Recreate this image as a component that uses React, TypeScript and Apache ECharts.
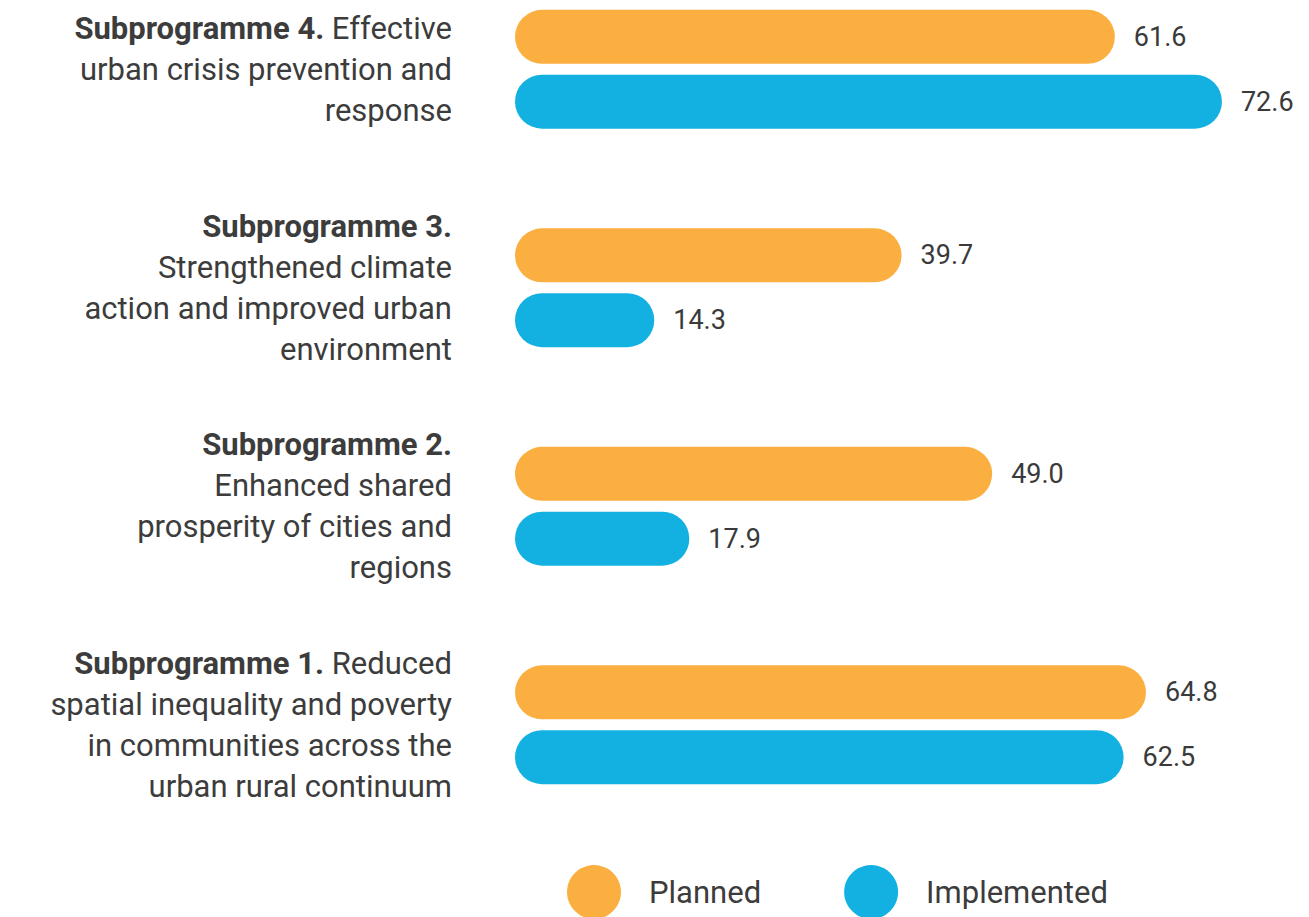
import React, { useEffect, useRef } from "react";
import * as echarts from "echarts";

const categories = [
  "{b|Subprogramme 4.} Effective\nurban crisis prevention and\nresponse",
  "{b|Subprogramme 3.}\nStrengthened climate\naction and improved urban\nenvironment",
  "{b|Subprogramme 2.}\nEnhanced shared\nprosperity of cities and\nregions",
  "{b|Subprogramme 1.} Reduced\nspatial inequality and poverty\nin communities across the\nurban rural continuum",
];
const planned = [61.6, 39.7, 49.0, 64.8];
const implemented = [72.6, 14.3, 17.9, 62.5];
const seriesNames = ["Planned", "Implemented"];

const ORANGE = "#FBAF40";
const BLUE = "#13B1E1";
const FONT = "Roboto";
const SHIFT = 40;

export default function App() {
  const ref = useRef<HTMLDivElement>(null);
  useEffect(() => {
    if (!ref.current) return;
    const chart = echarts.init(ref.current, null, { renderer: "svg" });
    const labelStyle = {
      show: true,
      position: "right",
      distance: 19,
      fontFamily: FONT,
      fontSize: 27,
      color: "#3a3a3a",
      formatter: (p: any) => Number(p.value).toFixed(1),
    };
    chart.setOption({
      animation: false,
      backgroundColor: "#ffffff",
      grid: { left: 515, right: 15, top: 0, bottom: 83, containLabel: false },
      xAxis: {
        type: "value",
        min: 0,
        max: 80,
        show: false,
      },
      yAxis: {
        type: "category",
        inverse: true,
        data: categories,
        axisLine: { show: false },
        axisTick: { show: false },
        splitLine: { show: false },
        axisLabel: {
          margin: 63,
          align: "right",
          fontFamily: FONT,
          fontSize: 31,
          lineHeight: 41,
          color: "#3c3c3c",
          rich: {
            b: { fontFamily: FONT, fontSize: 31, fontWeight: "bold", color: "#3c3c3c", lineHeight: 41 },
          },
        },
      },
      legend: {
        left: 562,
        top: 860 + SHIFT,
        itemWidth: 54,
        itemHeight: 54,
        itemGap: 83,
        icon: "circle",
        data: seriesNames,
        textStyle: {
          fontFamily: FONT,
          fontSize: 31,
          color: "#3c3c3c",
          padding: [0, 0, 0, 23],
        },
      },
      series: [
        {
          name: seriesNames[0],
          type: "bar",
          data: planned,
          barWidth: 54,
          barGap: "20%",
          itemStyle: { color: ORANGE, borderRadius: 27 },
          label: labelStyle,
        },
        {
          name: seriesNames[1],
          type: "bar",
          data: implemented,
          barWidth: 54,
          barGap: "20%",
          itemStyle: { color: BLUE, borderRadius: 27 },
          label: labelStyle,
        },
      ],
    });
    return () => chart.dispose();
  }, []);
  return (
    <div
      ref={ref}
      style={{ position: "fixed", left: 0, top: -SHIFT, width: 1309, height: 917 + SHIFT }}
    />
  );
}
